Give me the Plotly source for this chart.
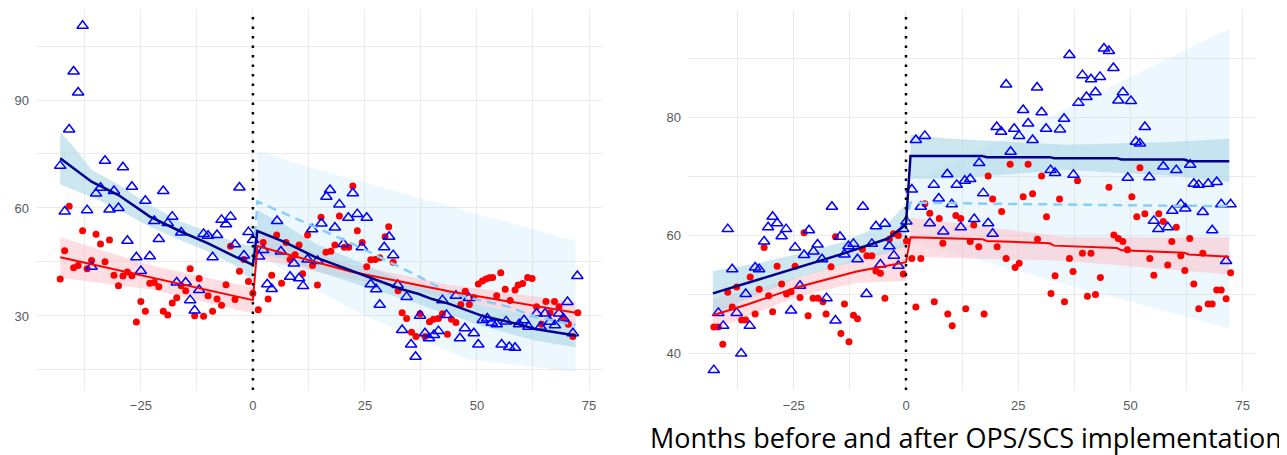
import plotly.graph_objects as go

# ---------------- DATA ----------------
INTERVENTION = 0

# Left panel: observed points
L_BLUE_M = [-43,-42,-41,-40,-39,-38,-37,-36,-35,-34,-33,-32,-31,-30,-29,-28,-27,-26,-25,-24,-23,-22,-21,-20,-19,-18,-17,-16,-15,-14,-13,-12,-11,-10,-9,-8,-7,-6,-5,-4,-3,-2,-1,0,
            1.4,2.3,3.2,4.2,5.4,6.25,8.3,9.15,10.3,11.2,12.2,13.2,14.4,15.3,16.4,17.2,18.3,19.3,20.2,21.3,22.3,23.3,24.3,25.4,26.3,27.5,28.3,29.3,30.4,31.3,32.3,33.3,34.3,35.3,36.3,37.3,38.4,39.3,40.4,41.4,42.3,43.2,45.3,46.2,47.3,48.2,49.3,50.3,51.3,52.3,53.3,54.4,55.5,56.5,57.2,58.5,59.4,60.5,61.5,63.3,64.2,65.2,66.3,67.4,68.3,69.3,70.2,71.4,72.4]
L_BLUE_V = [71.7,59.0,81.8,97.9,92.1,110.6,59.4,43.7,64.0,65.6,73.1,59.6,64.7,60.0,71.3,50.9,65.9,46.3,42.5,62.0,46.6,56.4,51.4,64.7,55.8,57.6,39.3,53.2,39.3,34.4,31.5,37.2,52.8,52.3,46.3,52.5,56.7,55.5,57.6,49.9,65.7,46.8,53.3,51.1,
            46.5,48.3,38.8,37.5,56.4,47.9,40.9,44.6,40.5,38.3,45.7,54.1,45.3,55.7,63.1,65.0,54.6,61.0,50.0,57.3,64.1,58.3,49.1,57.3,38.8,37.4,33.1,49.1,52.0,46.9,38.6,26.1,35.3,22.1,18.7,30.1,25.2,23.8,24.7,25.8,34.4,30.3,35.6,23.8,26.6,35.0,25.2,22.1,28.9,29.3,28.1,27.7,22.1,28.5,21.4,21.2,27.7,28.8,27.0,30.7,27.0,30.7,28.4,27.4,30.7,29.3,33.9,25.2,41.1]

L_RED_M = [-43,-42,-41,-40,-39,-38,-37,-36,-35,-34,-33,-32,-31,-30,-29,-28,-27,-26,-25,-24,-23,-22,-21,-20,-19,-18,-17,-16,-15,-14,-13,-12,-11,-10,-9,-8,-7,-6,-5,-4,-3,-2,-1,0,
           1.2,2.3,3.4,4.2,5.3,6.4,7.4,8.3,9.4,10.3,11.1,12.2,13.3,14.4,15.2,16.3,17.4,18.3,19.3,20.4,21.4,22.3,23.3,24.4,25.4,26.3,27.3,28.3,29.5,30.3,31.3,32.4,33.3,34.3,35.4,36.4,37.3,38.4,39.4,40.3,41.4,42.3,43.4,44.3,45.3,46.4,47.4,48.3,49.3,50.3,51.2,52.0,52.8,53.5,54.4,55.3,56.3,57.4,58.5,59.2,60.2,61.3,62.3,63.3,64.4,65.4,66.3,67.3,68.3,69.3,70.4,71.4,72.5]
L_RED_V = [40.3,48.1,60.5,43.4,44.0,53.7,43.1,45.4,52.7,50.0,45.1,51.1,41.3,38.4,41.1,42.2,41.2,28.3,34.0,31.3,39.1,39.3,38.1,31.3,30.3,33.6,35.1,38.4,37.0,43.1,30.1,40.4,29.9,35.6,31.3,34.7,33.0,38.7,49.4,34.6,42.4,45.7,39.6,36.3,
           31.7,50.4,34.7,41.3,52.5,39.1,50.4,45.7,47.0,49.7,41.7,52.5,44.0,38.6,57.4,47.7,48.0,49.7,57.8,49.1,49.1,66.1,53.7,50.4,43.7,45.6,45.7,46.2,52.0,54.8,44.9,37.0,30.9,29.3,25.5,24.3,30.6,24.3,28.4,29.1,29.3,30.6,24.9,29.1,28.2,33.2,36.9,33.2,35.1,38.9,39.7,40.3,40.6,40.7,35.6,42.0,37.4,34.3,37.2,38.6,39.0,40.7,40.4,32.6,27.7,34.0,30.9,34.0,32.6,29.3,27.7,24.3,30.9]

# Left panel: fitted segments and intervals
L_NAVY_PRE_M = [-43,-40,-36,-30,-23,-16,-10,-4,0]
L_NAVY_PRE = [73.8,71.0,67.3,63.6,57.6,53.4,50.2,46.5,44.2]
L_NAVY_PRE_LO = [66.5,65.0,63.1,59.5,54.8,51.0,47.9,44.0,39.5]
L_NAVY_PRE_HI = [81.2,77.0,70.6,66.5,60.8,56.2,53.4,50.5,49.4]
L_NAVY_POST_M = [1,7,14,22,27,33,37,40,44,51,59,63,72]
L_NAVY_POST = [53.6,50.6,46.3,42.6,40.3,37.5,36.1,34.7,33.3,30.1,27.8,26.4,24.6]
L_NAVY_POST_LO = [47.4,45.8,42.5,39.4,37.4,34.9,33.3,31.9,30.4,27.2,24.6,23.2,21.3]
L_NAVY_POST_HI = [59.4,55.4,50.1,45.8,43.2,40.1,38.9,37.5,36.2,33.0,31.0,29.6,27.9]
L_RED_PRE_M = [-43,-22,0]
L_RED_PRE = [46.3,40.5,34.4]
L_RED_PRE_LO = [40.6,37.2,30.7]
L_RED_PRE_HI = [51.9,43.8,37.9]
L_RED_POST_M = [1,22,44,72]
L_RED_POST = [49.4,42.3,36.8,30.9]
L_RED_POST_LO = [45.8,40.3,35.0,27.4]
L_RED_POST_HI = [53.0,44.3,38.6,33.9]
L_CF_M = [0,1,7,22,37,44,57,63,72]
L_CF = [44.2,61.8,58.5,50.2,41.0,36.3,32.6,29.8,27.5]
L_CF_BAND_M = [1,10,25,48,72]
L_CF_LO = [47.5,40.0,30.0,18.0,14.5]
L_CF_HI = [75.8,72.3,67.0,59.0,50.8]

# Right panel: observed points
R_BLUE_M = [-42.8,-41.8,-40.7,-39.7,-38.7,-37.7,-36.7,-35.7,-34.8,-33.6,-32.7,-31.6,-30.7,-29.7,-28.7,-27.7,-26.7,-25.6,-24.7,-23.6,-22.7,-21.6,-20.6,-19.7,-18.7,-17.7,-16.5,-15.7,-14.7,-13.7,-12.8,-11.7,-10.8,-9.6,-8.8,-7.6,-6.7,-5.7,-4.7,-3.7,-2.7,-1.7,-0.6,0.1,
            1.3,2.2,3.3,4.2,5.3,6.2,7.3,8.3,9.2,10.2,11.3,12.2,13.1,14.3,15.2,16.3,17.2,18.3,19.3,20.2,21.2,22.3,23.3,24.1,25.2,26.1,27.2,28.2,29.2,30.2,31.2,32.2,33.2,34.3,35.2,36.4,37.3,38.4,39.3,40.2,41.2,42.2,43.2,44.1,45.2,46.2,47.3,48.3,49.4,50.1,51.2,52.1,53.2,54.2,55.2,56.2,57.3,58.3,59.3,60.2,61.2,62.2,63.3,64.1,65.2,66.1,67.3,68.2,69.2,70.2,71.3,72.3]
R_BLUE_V = [37.1,46.8,44.6,61.0,54.2,46.8,39.9,50.0,44.6,54.5,54.2,58.9,61.3,63.1,62.0,59.8,61.0,47.2,57.9,51.4,56.6,60.8,57.2,58.4,55.9,49.3,64.8,45.5,59.7,56.7,58.1,58.5,55.9,64.8,50.0,58.5,61.5,55.0,61.9,58.1,56.5,54.8,61.0,62.3,
            67.7,76.1,64.8,76.8,62.0,68.5,66.2,60.6,70.3,65.2,68.5,61.3,69.2,69.5,62.7,72.2,67.1,62.0,60.2,78.3,77.5,85.5,74.1,78.0,76.8,81.2,78.9,76.1,85.0,80.8,78.0,71.0,70.5,77.9,79.7,90.5,70.2,82.4,87.1,83.4,86.4,84.2,86.8,91.6,91.2,88.3,82.8,84.2,69.7,82.7,75.8,75.5,78.3,69.8,62.4,61.0,71.6,61.3,64.1,71.0,65.2,64.5,71.9,68.7,68.5,63.9,68.7,60.8,69.0,65.2,55.6,65.2]

R_RED_M = [-42.8,-41.8,-40.8,-39.7,-38.7,-37.7,-36.6,-35.7,-34.7,-33.6,-32.7,-31.6,-30.6,-29.7,-28.7,-27.7,-26.6,-25.6,-24.7,-23.6,-22.7,-21.8,-20.7,-19.6,-18.5,-17.8,-16.7,-15.7,-14.5,-13.7,-12.7,-11.7,-10.8,-9.7,-8.7,-7.6,-6.7,-5.7,-4.7,-3.7,-2.8,-1.7,-0.6,0.1,
           1.3,2.2,3.3,4.2,5.3,6.3,7.4,8.2,9.3,10.3,11.1,12.2,13.3,14.3,15.1,16.2,17.4,18.3,19.3,20.3,21.3,22.3,23.2,24.3,25.2,26.1,27.2,28.2,29.3,30.2,31.3,32.3,33.2,34.2,35.3,36.4,37.2,38.2,39.3,40.4,41.2,42.2,43.3,45.2,46.3,47.3,48.3,49.3,50.3,51.4,52.1,53.2,54.3,55.2,56.3,57.3,58.3,59.2,60.2,61.2,62.1,63.2,64.1,65.2,66.1,67.3,68.2,69.2,70.2,71.3,72.3]
R_RED_V = [44.4,44.4,41.5,50.3,47.8,51.2,45.6,45.6,52.9,46.6,50.8,57.9,49.7,47.0,54.7,51.7,50.0,50.4,54.7,49.4,60.4,46.3,49.3,49.3,48.7,46.6,54.6,59.7,43.3,48.3,41.9,46.4,45.8,57.6,56.5,56.5,53.9,53.5,49.3,59.3,60.2,59.9,53.4,59.0,
           56.0,47.8,56.0,65.3,63.7,48.7,62.8,58.6,46.6,44.6,63.3,62.8,47.5,58.9,61.7,58.0,46.6,70.0,66.1,58.0,64.0,56.0,72.0,54.5,55.2,66.5,72.0,67.0,59.3,70.0,63.1,50.1,53.1,66.1,48.7,56.0,53.8,69.2,56.9,49.6,56.9,49.9,52.8,68.1,60.0,59.4,58.9,57.5,66.5,63.1,71.4,63.6,56.0,53.2,63.6,62.3,54.9,58.9,61.3,56.5,54.0,59.4,51.7,47.5,56.9,48.3,48.3,50.7,50.7,49.2,53.6]

# Right panel: fitted segments and intervals
R_NAVY_PRE_M = [-43,-33,-24,-15,-4,-1,0]
R_NAVY_PRE = [50.1,52.4,54.6,56.6,59.4,61.1,61.8]
R_NAVY_PRE_LO = [46.6,49.8,52.8,54.8,56.9,57.8,57.9]
R_NAVY_PRE_HI = [53.9,55.2,56.8,58.6,62.0,64.4,65.3]
R_NAVY_POST_M = [1,17,18,32,33,47,48,62,63,72]
R_NAVY_POST = [73.4,73.4,73.2,73.2,73.0,73.0,72.8,72.8,72.5,72.5]
R_NAVY_BAND_M = [1,10,36,60,72]
R_NAVY_POST_LO = [69.5,69.6,71.0,70.0,69.0]
R_NAVY_POST_HI = [77.0,76.3,75.3,75.8,76.3]
R_RED_PRE_M = [-43,-35,-24,-11,0]
R_RED_PRE = [46.4,48.3,51.2,53.8,55.4]
R_RED_PRE_LO = [43.9,46.3,49.6,51.9,52.2]
R_RED_PRE_HI = [49.2,50.5,52.9,55.9,58.8]
R_RED_POST_M = [1,17,18,32,33,47,48,62,63,72]
R_RED_POST = [59.6,59.3,59.0,58.6,58.2,57.8,57.4,57.0,56.7,56.3]
R_RED_BAND_M = [1,36,72]
R_RED_POST_LO = [56.3,55.6,53.3]
R_RED_POST_HI = [63.0,59.6,59.6]
R_CF_M = [0,1,20,40,55,72]
R_CF = [61.8,65.5,65.3,65.2,65.0,64.9]
R_CF_BAND_M = [1,10,21,40,72]
R_CF_LO = [58.7,56.9,54.8,50.7,44.2]
R_CF_HI = [69.0,72.0,76.1,83.0,95.0]

X_TICKS = [-25, 0, 25, 50, 75]
L_Y_TICKS = [30, 60, 90]
R_Y_TICKS = [40, 60, 80]
X_TITLE = "Months before and after OPS/SCS implementation"

# ---------------- STYLE ----------------
NAVY = "#00008B"
RED = "#FF0000"
BLUE = "#0000FF"
LB_FILL = "rgba(173,216,230,0.62)"
PK_FILL = "rgba(255,182,193,0.45)"
AB_FILL = "rgba(135,206,250,0.15)"
CF_COL = "#87CEFA"
GRID = "#EBEBEB"
TICKFONT = dict(family="Liberation Sans, Arial", size=13, color="#5a5a5a")

fig = go.Figure()


def band(m, lo, hi, color, xa, ya):
    fig.add_trace(go.Scatter(x=list(m) + list(m)[::-1], y=list(hi) + list(lo)[::-1],
                             fill="toself", fillcolor=color, line=dict(width=0),
                             mode="lines", hoverinfo="skip", showlegend=False,
                             xaxis=xa, yaxis=ya))


def line(m, v, color, width, xa, ya, dash="solid"):
    fig.add_trace(go.Scatter(x=m, y=v, mode="lines", line=dict(color=color, width=width, dash=dash),
                             showlegend=False, xaxis=xa, yaxis=ya))


def points(m, v, kind, xa, ya):
    if kind == "tri":
        mk = dict(symbol="triangle-up-open", size=10, color=BLUE, line=dict(width=1.5, color=BLUE))
    else:
        mk = dict(symbol="circle", size=7, color=RED, line=dict(width=0))
    fig.add_trace(go.Scatter(x=m, y=v, mode="markers", marker=mk, showlegend=False,
                             xaxis=xa, yaxis=ya))


for xa, ya, P in [("x", "y", "L"), ("x2", "y2", "R")]:
    g = globals()
    band(g[P + "_CF_BAND_M"], g[P + "_CF_LO"], g[P + "_CF_HI"], AB_FILL, xa, ya)
    band(g[P + "_RED_PRE_M"], g[P + "_RED_PRE_LO"], g[P + "_RED_PRE_HI"], PK_FILL, xa, ya)
    band(g[P + "_NAVY_PRE_M"], g[P + "_NAVY_PRE_LO"], g[P + "_NAVY_PRE_HI"], LB_FILL, xa, ya)
    if P == "L":
        band(L_RED_POST_M, L_RED_POST_LO, L_RED_POST_HI, PK_FILL, xa, ya)
        band(L_NAVY_POST_M, L_NAVY_POST_LO, L_NAVY_POST_HI, LB_FILL, xa, ya)
    else:
        band(R_RED_BAND_M, R_RED_POST_LO, R_RED_POST_HI, PK_FILL, xa, ya)
        band(R_NAVY_BAND_M, R_NAVY_POST_LO, R_NAVY_POST_HI, LB_FILL, xa, ya)
    points(g[P + "_RED_M"], g[P + "_RED_V"], "dot", xa, ya)
    points(g[P + "_BLUE_M"], g[P + "_BLUE_V"], "tri", xa, ya)
    line(g[P + "_CF_M"], g[P + "_CF"], CF_COL, 2.5, xa, ya, dash="9px,6px")
    red_m = g[P + "_RED_PRE_M"] + g[P + "_RED_POST_M"]
    red_v = g[P + "_RED_PRE"] + g[P + "_RED_POST"]
    line(red_m, red_v, RED, 2, xa, ya)
    navy_m = g[P + "_NAVY_PRE_M"] + g[P + "_NAVY_POST_M"]
    navy_v = g[P + "_NAVY_PRE"] + g[P + "_NAVY_POST"]
    line(navy_m, navy_v, NAVY, 2.5, xa, ya)

# page body has an 8px margin: the figure is drawn 8px in from the window corner
OFF = 8
W, H = 1287 - OFF, 455 - OFF


def dom_x(a, b):
    return [(a - OFF) / W, (b - OFF) / W]


def dom_y(top, bottom):
    return [1 - (bottom - OFF) / H, 1 - (top - OFF) / H]


common_x = dict(showgrid=True, gridcolor=GRID, gridwidth=1.2, zeroline=False, showline=False,
                ticks="", tickvals=X_TICKS, tickfont=TICKFONT, ticklabelstandoff=6,
                minor=dict(dtick=12.5, tick0=0, showgrid=True, gridcolor=GRID, gridwidth=0.8),
                fixedrange=True)
common_y = dict(showgrid=True, gridcolor=GRID, gridwidth=1.2, zeroline=False, showline=False,
                ticks="", tickfont=TICKFONT, ticklabelstandoff=6, fixedrange=True)

fig.update_layout(
    width=W, height=H, margin=dict(l=0, r=0, t=0, b=0),
    paper_bgcolor="white", plot_bgcolor="white", showlegend=False,
    xaxis=dict(common_x, domain=dom_x(36, 602), range=[-48.4, 77.9]),
    yaxis=dict(common_y, domain=dom_y(10, 390), range=[9.44, 115.0], tickvals=L_Y_TICKS,
               minor=dict(dtick=15, tick0=0, showgrid=True, gridcolor=GRID, gridwidth=0.8)),
    xaxis2=dict(common_x, domain=dom_x(688, 1255), range=[-48.55, 77.73], anchor="y2"),
    yaxis2=dict(common_y, domain=dom_y(10, 390), range=[33.73, 98.14], tickvals=R_Y_TICKS, anchor="x2",
                minor=dict(dtick=10, tick0=0, showgrid=True, gridcolor=GRID, gridwidth=0.8)),
)

for xr, yr in [("x", "y domain"), ("x2", "y2 domain")]:
    fig.add_shape(type="line", xref=xr, yref=yr, x0=INTERVENTION, x1=INTERVENTION, y0=0, y1=1,
                  line=dict(color="black", width=2.5, dash="2.5px,7px"), layer="above")

fig.add_annotation(text=X_TITLE, xref="paper", yref="paper", x=(966 - OFF) / W, y=1 - (437 - OFF) / H,
                   xanchor="center", yanchor="middle", showarrow=False,
                   font=dict(family="Open Sans", size=27, color="black"))

fig.write_html("out.html")
